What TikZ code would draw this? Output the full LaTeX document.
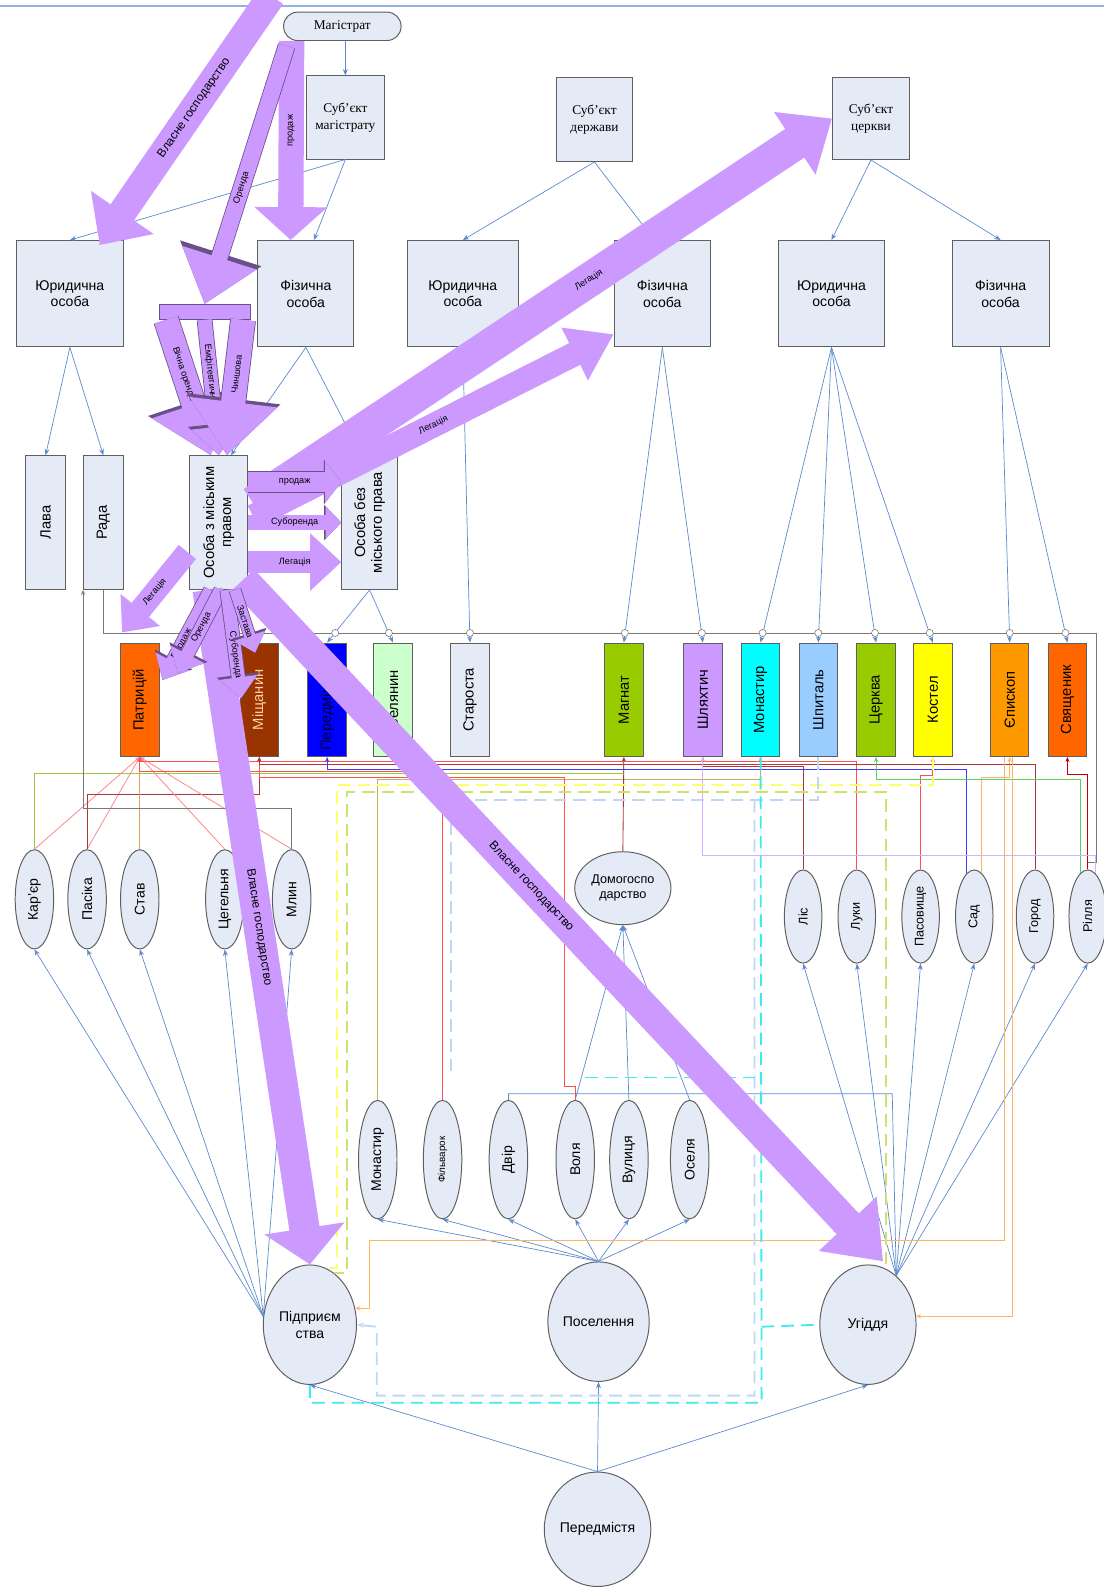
\documentclass[tikz,border=0pt]{standalone}
\usepackage{fontspec}
\setmainfont{Liberation Sans}
\newfontfamily\romanfont{Liberation Serif}
\usetikzlibrary{arrows.meta,shapes.geometric,positioning}
\newcommand{\pxl}{0.2532mm}
\definecolor{BoxFill}{RGB}{229,235,246}
\definecolor{BoxLine}{RGB}{95,95,95}
\definecolor{LineBlue}{RGB}{92,138,206}
\definecolor{TopLine}{RGB}{150,175,225}
\definecolor{Buzok}{RGB}{204,153,255}
\definecolor{BuzokDark}{RGB}{105,80,135}
%Стани
\definecolor{cPatr}{RGB}{255,102,0}
\definecolor{cMishch}{RGB}{153,51,0}
\definecolor{cPeredm}{RGB}{0,0,255}
\definecolor{cSelyan}{RGB}{204,255,204}
\definecolor{cMagnat}{RGB}{153,204,0}
\definecolor{cShlyakh}{RGB}{204,153,255}
\definecolor{cMonast}{RGB}{0,255,255}
\definecolor{cShpyt}{RGB}{153,204,255}
\definecolor{cKostel}{RGB}{255,255,0}
\definecolor{cYepysk}{RGB}{255,153,0}
%Лінії
\definecolor{lRed}{RGB}{255,80,80}
\definecolor{lPink}{RGB}{255,140,140}
\definecolor{lDark}{RGB}{170,55,60}
\definecolor{lOlive}{RGB}{160,200,60}
\definecolor{lGreen}{RGB}{90,210,90}
\definecolor{lTan}{RGB}{215,165,95}
\definecolor{lBlue}{RGB}{60,60,255}
\definecolor{lLilac}{RGB}{215,175,255}
\definecolor{lOrange}{RGB}{255,180,100}
\definecolor{lGray}{RGB}{120,120,120}
\definecolor{dYellow}{RGB}{255,255,110}
\definecolor{dOlive}{RGB}{205,225,110}
\definecolor{dSky}{RGB}{190,215,245}
\definecolor{dCyan}{RGB}{60,235,240}
\tikzset{
  wh/.style 2 args={minimum width=#1*\pxl, minimum height=#2*\pxl},
  box/.style={draw=BoxLine, fill=BoxFill, line width=0.7pt, align=center, inner sep=1pt, font=\fontsize{10}{12}\selectfont},
  romanbox/.style={box, font=\romanfont\fontsize{9.5}{12}\selectfont},
  vbox/.style={box, rotate=90, font=\fontsize{10.5}{12}\selectfont},
  ell/.style={ellipse, draw=BoxLine, fill=BoxFill, line width=0.7pt, inner sep=0pt, align=center, font=\fontsize{10}{12}\selectfont},
  vell/.style={ell, rotate=90},
  arr/.style={draw=LineBlue, line width=0.5pt, -{Stealth[length=4.5pt, width=3.5pt]}},
  ln/.style={draw=LineBlue, line width=0.5pt},
  own/.style={line width=0.6pt, -{Stealth[length=3.5pt, width=3pt]}},
  dsh/.style={line width=1.3pt, dash pattern=on 9pt off 5pt},
  fat/.style n args={3}{draw=Buzok, line width=#1*\pxl, -{Triangle[length=0pt #2, width=0pt #3]}},
  kont/.style n args={3}{draw=BuzokDark, line width=#1*\pxl+1.1pt, -{Triangle[length=0pt #2, width=0pt #3]}},
  lbl/.style={font=\fontsize{6.5}{7}\selectfont, inner sep=0pt},
  biglbl/.style={font=\fontsize{8.5}{9}\selectfont, inner sep=0pt},
}
\newcommand{\kontstr}[7]{%
  \draw[kont={#1}{#2}{#3}] #4 -- #5;
  \draw[fat={#1}{#2}{#3}] #4 -- #5 node[pos=#6, sloped, lbl] {#7};}

\begin{document}
\begin{tikzpicture}[x=0.2532mm, y=-0.2532mm]
        \useasboundingbox (0,0) rectangle (1090,1568);
        \draw[TopLine, line width=1.5pt] (0,6) -- (1090,6);
        %Суб'єкти
        \node[romanbox, rounded corners=3.5mm, wh={116}{28}] (Mag) at (338,26) {Магістрат};
        \node[romanbox, wh={77}{82}] (SubMag) at (341,116) {Суб’єкт\\магістрату};
        \node[romanbox, wh={76}{83}] (SubDerzh) at (587,118) {Суб’єкт\\держави};
        \node[romanbox, wh={76}{81}] (SubTserk) at (860,117) {Суб’єкт\\церкви};
        %Особи
        \node[box, wh={106}{105}] (Jur1) at (69,290) {Юридична\\особа};
        \node[box, wh={95}{105}] (Fiz1) at (302,290) {Фізична\\особа};
        \node[box, wh={109}{105}] (Jur2) at (457,290) {Юридична\\особа};
        \node[box, wh={95}{105}] (Fiz2) at (654,290) {Фізична\\особа};
        \node[box, wh={105}{105}] (Jur3) at (821,290) {Юридична\\особа};
        \node[box, wh={96}{105}] (Fiz3) at (988,290) {Фізична\\особа};
        \node[vbox, wh={132}{40}] (Lava) at (45,516) {Лава};
        \node[vbox, wh={132}{39}] (Rada) at (102,516) {Рада};
        \node[vbox, wh={132}{57}] (OsobaZ) at (216,516) {Особа з міським\\правом};
        \node[vbox, wh={132}{55}] (OsobaBez) at (365,516) {Особа без\\міського права};
        %Стани
        \foreach \nm/\xx/\cc/\tc/\lab in {Patr/138/cPatr/black/Патрицій, Mishch/256/cMishch/orange!35/Міщанин,
            Peredm/323/cPeredm/black!80!blue/Передміщанин, Selyan/388/cSelyan/black/Селянин,
            Starosta/464/BoxFill/black/Староста, Magnat/616/cMagnat/black/Магнат,
            Shlyakh/694/cShlyakh/black/Шляхтич, Monast/751/cMonast/black/Монастир,
            Shpyt/808/cShpyt/black/Шпиталь, Tserkva/865/cMagnat/black/Церква,
            Kostel/921/cKostel/black/Костел, Yepyskop/997/cYepysk/black/Єпископ,
            Svyash/1054/cPatr/black/Священик}
          \node[vbox, wh={112}{38}, fill=\cc, text=\tc] (\nm) at (\xx,691) {\lab};
        %Майно
        \foreach \nm/\xx/\lab in {Karier/34/Кар’єр, Pasika/86/Пасіка, Stav/138/Став, Tseheln/222/Цегельня, Mlyn/288/Млин}
          \node[vell, wh={98}{38}] (\nm) at (\xx,888) {\lab};
        \foreach \nm/\xx/\lab in {Lis/793/Ліс, Luky/846/Луки, Pasov/909/Пасовище, Sad/962/Сад, Horod/1022/Город, Rillya/1074/Рілля}
          \node[vell, wh={92}{37}, font=\fontsize{9}{10}\selectfont] (\nm) at (\xx,905) {\lab};
        \node[ell, wh={95}{72}, font=\fontsize{9}{11}\selectfont] (Domog) at (615,877) {Домогоспо\\дарство};
        \foreach \nm/\xx/\lab in {Monast2/373/Монастир, Dvir/502/Двір, Volya/568/Воля, Vulytsya/621/Вулиця, Oselya/681/Оселя}
          \node[vell, wh={117}{38}] (\nm) at (\xx,1145) {\lab};
        \node[vell, wh={117}{38}, font=\fontsize{7}{8}\selectfont] (Filvar) at (437,1145) {Фільварок};
        \node[ell, wh={92}{118}] (Pidpr) at (306,1308) {Підприєм\\ства};
        \node[ell, wh={100}{118}] (Posel) at (591,1305) {Поселення};
        \node[ell, wh={95}{118}] (Uhid) at (857,1308) {Угіддя};
        \node[ell, wh={105}{113}] (Peredmist) at (590,1510) {Передмістя};
        %Зв'язки
        \draw[arr] (SubMag.north |- Mag.south) -- (SubMag.north);
        \draw[arr] (SubMag.south) -- (Jur1.north);
        \draw[arr] (SubMag.south) -- ([shift={(8,0)}]Fiz1.north);
        \draw[arr] (SubDerzh.south) -- (Jur2.north);
        \draw[ln] (SubDerzh.south) -- ([shift={(-8,0)}]Fiz2.north);
        \draw[arr] (SubTserk.south) -- (Jur3.north);
        \draw[arr] (SubTserk.south) -- (Fiz3.north);
        \draw[arr] (Jur1.south) -- (Lava.east);
        \draw[arr] (Jur1.south) -- (Rada.east);
        \draw[arr] (Fiz1.south) -- ([shift={(12,0)}]OsobaZ.east);
        \draw[arr] (Fiz1.south) -- ([shift={(-8,0)}]OsobaBez.east);
        \draw[lGray, line width=0.6pt] (Rada.west) -- (102,625) -- (1083,625) -- (1083,852) -- (1074,852);
        \draw[arr] (OsobaBez.west) -- (Peredm.east);
        \draw[arr] (OsobaBez.west) -- (Selyan.east);
        \draw[arr] (Jur2.south) -- (Starosta.east);
        \draw[arr] (Fiz2.south) -- (Magnat.east);
        \draw[arr] (Fiz2.south) -- (Shlyakh.east);
        \foreach \nm in {Monast,Shpyt,Tserkva,Kostel} \draw[arr] (Jur3.south) -- (\nm.east);
        \draw[arr] (Fiz3.south) -- (Yepyskop.east);
        \draw[arr] (Fiz3.south) -- (Svyash.east);
        \foreach \xx in {331,384,464,617,693,753,808,864,918,997,1052}
          \draw[lGray, fill=white, line width=0.4pt] (\xx,625) circle (3.5);
        \foreach \nm in {Karier,Pasika,Stav,Tseheln,Mlyn} \draw[arr] (Pidpr.170) -- (\nm.west);
        \foreach \nm in {Lis,Luky,Pasov,Sad,Horod,Rillya} \draw[arr] (Uhid.60) -- (\nm.west);
        \foreach \nm in {Monast2,Filvar,Dvir,Volya,Vulytsya,Oselya} \draw[arr] (Posel.north) -- (\nm.west);
        \foreach \nm in {Volya,Vulytsya,Oselya} \draw[arr] (\nm.east) -- (Domog.south);
        \draw[ln] (Dvir.east) |- (881,1080) -- (Uhid.60);
        \draw[arr] (Peredmist.north) -- (Pidpr.south);
        \draw[arr] (Peredmist.north) -- (Posel.south);
        \draw[arr] (Peredmist.north) -- (Uhid.south);
        %Власність
        \draw[own, lOlive] (Karier.east) |- (616,764) -- (Magnat.west);
        \draw[own, lPink] (Karier.east) -- (Patr.west);
        \draw[own, lPink] (Pasika.east) -- (Patr.west);
        \draw[own, lDark] (Pasika.east) |- (256,784) -- (Mishch.west);
        \draw[own, lTan] (Stav.east) -- (Patr.west);
        \draw[own, lPink] (Tseheln.east) -- (Patr.west);
        \draw[own, lPink] (Mlyn.east) -- (Patr.west);
        \draw[own, lGray] (Mlyn.east) -- (288,798) -| (Rada.north west);
        \draw[own, lRed] (Filvar.east) -- (437,762) -| (Patr.west);
        \draw[own, lTan!70!lOlive] (Monast2.east) -- (373,770) -| (Monast.west);
        \draw[own, lRed] (Volya.east) -- (568,1073) -| (557,768) -| (Mishch.west);
        \draw[own, lDark] (Domog.north) -- (Magnat.west);
        \draw[own, lDark] (Lis.east) |- (694,757) -- (Shlyakh.west);
        \draw[own, lRed] (Luky.east) |- (138,752) -- (Patr.west);
        \draw[own, lRed] (Pasov.east) |- (921,766) -- (Kostel.west);
        \draw[own, lBlue] (Sad.10) |- (323,760) -- (Peredm.west);
        \draw[own, lOrange] (Sad.350) |- (997,768) -- (Yepyskop.west);
        \draw[own, lDark] (Horod.east) |- (256,755) -- (Mishch.west);
        \draw[own, red!75!black] (Rillya.east) |- (1054,765) -- (Svyash.west);
        \draw[own, lGreen] (Rillya.10) |- (865,770) -- (Tserkva.west);
        \draw[own, lLilac] (Rillya.350) |- (694,845) -- (Shlyakh.west);
        \draw[own, lOrange] ([shift={(-5,0)}]Yepyskop.west) |- (365,1225) |- (Pidpr.20);
        \draw[own, lOrange] ([shift={(3,0)}]Yepyskop.west) |- (Uhid.10);
        %Пунктир
        \draw[dsh, dYellow] (Kostel.west) |- (333,775) |- (Pidpr.75);
        \draw[dsh, dOlive] ([shift={(18,0)}]Uhid.north) |- (343,782) |- (Pidpr.65);
        \draw[dsh, dSky] (Shpyt.west) |- (445,790) -- (445,1060);
        \draw[dsh, dSky, -{Stealth[length=5pt]}] (745,790) -- (745,1378) -| (372,1310) -- (Pidpr.east);
        \draw[dsh, dCyan] (Monast.west) -- (752,1385) -| (Pidpr.south);
        \draw[dsh, dCyan] (752,1310) -- (Uhid.west);
        \draw[dsh, dCyan] (578,1064) -- (752,1064);
        %Стрілки
        \coordinate (VhidMag) at (268,-4);
        \draw[fat={28}{1.4}{2.6}] (VhidMag) -- ([shift={(-24,5)}]Jur1.north east) node[pos=0.45, sloped, biglbl] {Власне господарство};
        \draw[fat={25}{1.3}{2.8}] ([shift={(-50,0)}]Mag.south) -- ([shift={(-15,0)}]Fiz1.north) node[pos=0.45, sloped, lbl] {продаж};
        \node[draw=BuzokDark, fill=Buzok, line width=0.4pt, inner sep=0pt, wh={90}{15}] (Rozpod) at (202,308) {};
        \kontstr{16}{3}{4.6}{([shift={(-55,5)}]Mag.south)}{(Rozpod.north)}{0.55}{Оренда}
        \kontstr{24}{2.2}{3.5}{([shift={(-38,0)}]Rozpod.south)}{([shift={(-8,0)}]OsobaZ.east)}{0.4}{Вічна оренда}
        \kontstr{14}{2}{3.4}{(Rozpod.south)}{(OsobaZ.east)}{0.4}{Емфітевтична}
        \kontstr{24}{2.2}{3.5}{([shift={(38,0)}]Rozpod.south)}{([shift={(8,0)}]OsobaZ.east)}{0.4}{Чиншова}
        \draw[fat={34}{1.3}{2.1}] ([shift={(5,-19)}]OsobaZ.south) -- (SubTserk.west) node[pos=0.58, sloped, lbl] {Легація};
        \draw[fat={24}{1.8}{2.3}] ([shift={(5,-6)}]OsobaZ.south) -- ([shift={(0,40)}]Fiz2.west) node[pos=0.5, sloped, lbl] {Легація};
        \kontstr{20}{0.8}{2}{([shift={(0,-40)}]OsobaZ.south)}{([shift={(0,-40)}]OsobaBez.north)}{0.5}{продаж}
        \kontstr{14}{1.1}{2.2}{(OsobaZ.south)}{(OsobaBez.north)}{0.5}{Суборенда}
        \draw[fat={22}{1.4}{2.5}] ([shift={(0,39)}]OsobaZ.south) -- ([shift={(0,39)}]OsobaBez.north) node[midway, lbl] {Легація};
        \draw[fat={30}{1.2}{2.6}] ([shift={(-11,0)}]OsobaZ.west) -- (Pidpr.north) node[pos=0.5, sloped, biglbl] {Власне господарство};
        \draw[fat={30}{1.7}{2.5}] ([shift={(24,-10)}]OsobaZ.west) -- ([shift={(15,-3)}]Uhid.north) node[pos=0.45, sloped, biglbl] {Власне господарство};
        \draw[fat={22}{1.3}{2.2}] ([shift={(-2,29)}]OsobaZ.north) -- ([shift={(2,-10)}]Patr.north east) node[midway, sloped, lbl] {Легація};
        \kontstr{13}{1.6}{2.8}{([shift={(-8,0)}]OsobaZ.west)}{([shift={(3,37)}]Patr.south east)}{0.6}{Продаж}
        \kontstr{13}{1.6}{2.8}{([shift={(2,0)}]OsobaZ.west)}{([shift={(18,30)}]Patr.south east)}{0.45}{Оренда}
        \kontstr{13}{1.6}{2.8}{([shift={(8,0)}]OsobaZ.west)}{([shift={(-18,55)}]Mishch.east)}{0.6}{Суборенда}
        \kontstr{11}{1.6}{2.8}{([shift={(16,0)}]OsobaZ.west)}{([shift={(-4,10)}]Mishch.east)}{0.5}{Застава}
\end{tikzpicture}
\end{document}
